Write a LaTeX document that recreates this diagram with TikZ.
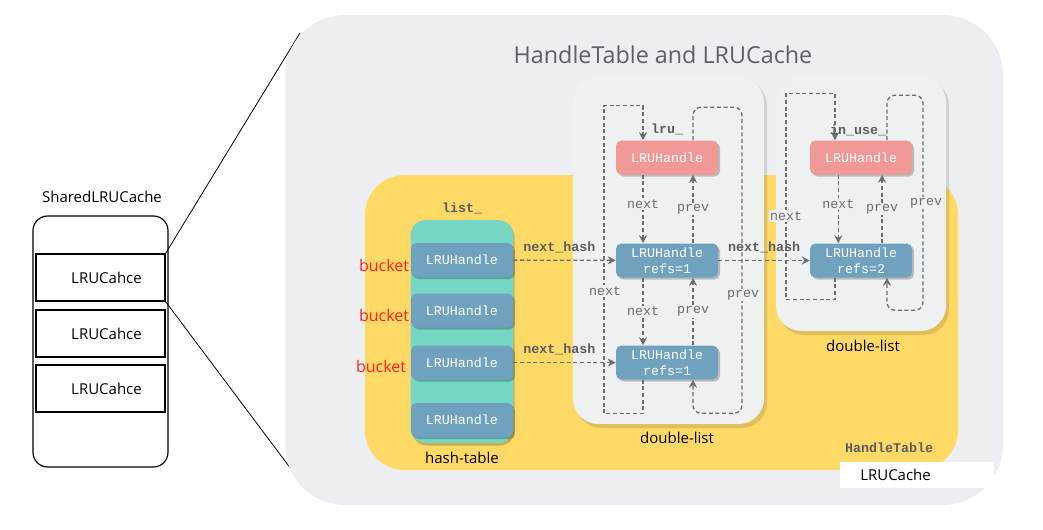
\documentclass[tikz,border=0pt]{standalone}
\usepackage{fontspec}
\setmainfont{Open Sans}
\newfontfamily\codefont{Liberation Mono}
\usetikzlibrary{arrows.meta, positioning, calc, shadows}

\definecolor{bggray}{RGB}{237, 238, 241}
\definecolor{panelgray}{RGB}{239, 240, 242}
\definecolor{tableyellow}{RGB}{255, 217, 102}
\definecolor{bucketteal}{RGB}{118, 215, 198}
\definecolor{handleblue}{RGB}{112, 162, 191}
\definecolor{headpink}{RGB}{241, 153, 151}
\definecolor{linkgray}{RGB}{108, 108, 116}
\definecolor{titlegray}{RGB}{95, 95, 104}
\definecolor{bucketred}{RGB}{255, 32, 32}

\begin{document}
\begin{tikzpicture}[x=0.75pt, y=-0.75pt,
  handle/.style={rounded corners=4pt, minimum width=76.5pt, minimum height=25.5pt,
                 inner sep=1pt, align=center, text=white,
                 font=\codefont\fontsize{10}{12}\selectfont,
                 drop shadow={shadow xshift=1.5pt, shadow yshift=-1.5pt, fill=black, opacity=0.22}},
  slot/.style={handle, fill=handleblue, drop shadow={opacity=0}},
  entry/.style={handle, fill=handleblue},
  head/.style={handle, fill=headpink},
  link/.style={draw=linkgray, line width=1pt, dash pattern=on 3pt off 2pt,
               -{Stealth[length=6pt, width=6pt, inset=2pt]}},
  ptr/.style={font=\codefont\fontsize{10}{10}\selectfont, text=linkgray, fill=panelgray, inner sep=1pt},
  field/.style={font=\codefont\bfseries\fontsize{10}{10}\selectfont, text=linkgray!85!black, inner sep=1pt},
  caption/.style={font=\fontsize{11.25}{12}\selectfont, text=black},
  cache/.style={draw, line width=0.9pt, minimum width=96.75pt, minimum height=35.25pt,
                font=\fontsize{11.25}{12}\selectfont, text depth=0pt, inner xsep=0pt, xshift=0pt},
]
\useasboundingbox (0,0) rectangle (1043,529);
\fill[white] (0,0) rectangle (1043,529);

% Shared cache with its shards
\node[caption] (shared) at (102,197) {SharedLRUCache};
\node[draw, line width=0.9pt, rounded corners=11pt, minimum width=101.25pt, minimum height=188.25pt] (shard) at (100.5,341.5) {};
\node[cache] (c1) at (100.5,277.5) {\hspace*{9pt}LRUCahce};
\node[cache] (c2) at (100.5,333.5) {\hspace*{9pt}LRUCahce};
\node[cache] (c3) at (100.5,388.5) {\hspace*{9pt}LRUCahce};

\coordinate (zoomtop) at (300,33);
\coordinate (zoombot) at (294,473);
\draw[line width=0.6pt] (c1.north east) -- (zoomtop);
\draw[line width=0.6pt] (c1.south east) -- (zoombot);

% Zoomed LRUCache
\fill[bggray, rounded corners=45pt] (285,15) rectangle (1003,505);
\node[font=\fontsize{17.5}{18}\selectfont, text=titlegray] (title) at (663,55) {HandleTable and LRUCache};
\fill[tableyellow, rounded corners=30pt] (365,175) rectangle (958,470);

% double-list panels
\fill[black, opacity=0.12, rounded corners=19pt] (576,80) rectangle (767,428);
\fill[panelgray, rounded corners=19pt] (573,77) rectangle (764,424);
\fill[black, opacity=0.12, rounded corners=19pt] (779,80) rectangle (949,335);
\fill[panelgray, rounded corners=19pt] (776,77) rectangle (946,331);

% hash table
\node[fill=bucketteal, rounded corners=11pt, minimum width=77pt, minimum height=167pt,
      drop shadow={shadow xshift=1pt, shadow yshift=-2pt, fill=black, opacity=0.2}] (table) at (462,331.5) {};
\node[slot] (b1) at (462,260) {LRUHandle};
\node[slot] (b2) at (462,310.5) {LRUHandle};
\node[slot] (b3) at (462,362.5) {LRUHandle};
\node[slot] (b4) at (462,420) {LRUHandle};
\node[field] (listname) at (462,208) {list\_};
\node[caption] (tablename) at (462,458) {hash-table};

\node[font=\fontsize{12}{12}\selectfont, text=bucketred] (k1) at (384,265) {bucket};
\node[font=\fontsize{12}{12}\selectfont, text=bucketred] (k2) at (384,315) {bucket};
\node[font=\fontsize{12}{12}\selectfont, text=bucketred] (k3) at (381,366) {bucket};

% lru_ list
\node[head] (lru) at (667,157.5) {LRUHandle};
\node[entry] (e1) at (667,260.5) {LRUHandle\\refs=1};
\node[entry] (e3) at (667,362.5) {LRUHandle\\refs=1};
\node[field] (lruname) at (667,129) {lru\_};

\draw[link] ([xshift=-18pt]lru.south) -- ([xshift=-18pt]e1.north) node[ptr, pos=0.43] (n1) {next};
\draw[link] ([xshift=19.5pt]e1.north) -- ([xshift=19.5pt]lru.south) node[ptr, pos=0.5] (p1) {prev};
\draw[link] ([xshift=-18pt]e1.south) -- ([xshift=-18pt]e3.north) node[ptr, pos=0.5] (n2) {next};
\draw[link] ([xshift=19.5pt]e3.north) -- ([xshift=19.5pt]e1.south) node[ptr, pos=0.5] (p2) {prev};
\draw[link] ([xshift=-18pt]e3.south) -- ++(0,34) -| ++(-39,-308) -| ([xshift=-18pt]lru.north);
\draw[link, rounded corners=6pt] ([xshift=19.5pt]lru.north) -- ++(0,-33) -- ++(49,0) -- ++(0,306) -- ++(-49,0) -- ([xshift=19.5pt]e3.south);
\node[ptr] (n3) at (605,291) {next};
\node[ptr] (p3) at (743,295) {prev};
\node[caption] (dlname1) at (677,438) {double-list};

% in_use_ list
\node[head] (inuse) at (861,157.5) {LRUHandle};
\node[entry] (e2) at (861,260.5) {LRUHandle\\refs=2};
\node[field] (inusename) at (858,130) {in\_use\_};

\draw[link] ([xshift=-17pt]inuse.south) -- ([xshift=-17pt]e2.north) node[ptr, pos=0.43] (n4) {next};
\draw[link] ([xshift=15.75pt]e2.north) -- ([xshift=15.75pt]inuse.south) node[ptr, pos=0.5] (p4) {prev};
\draw[link] ([xshift=-19.5pt]e2.south) -- ++(0,22) -| ++(-49,-206) -| ([xshift=-19.5pt]inuse.north);
\draw[link, rounded corners=6pt] ([xshift=19.5pt]inuse.north) -- ++(0,-45) -- ++(36,0) -- ++(0,215) -- ++(-36,0) -- ([xshift=19.5pt]e2.south);
\node[ptr] (n5) at (786,216) {next};
\node[ptr] (p5) at (926,203) {prev};
\node[caption] (dlname2) at (863,346) {double-list};

% hash chains
\draw[link] (b1) -- (e1) node[field, pos=0.45, above=4pt] (h1) {next\_hash};
\draw[link] (e1) -- (e2) node[field, midway, above=4pt] (h2) {next\_hash};
\draw[link] (b3) -- (e3) node[field, pos=0.45, above=4pt] (h3) {next\_hash};

% captions
\node[field] (htname) at (889,448) {HandleTable};
\node[fill=white, anchor=north west, minimum height=19.5pt, text width=85pt, inner xsep=15pt,
      align=left, font=\fontsize{11.25}{12}\selectfont] (lrucache) at (840,462) {LRUCache};
\end{tikzpicture}
\end{document}
